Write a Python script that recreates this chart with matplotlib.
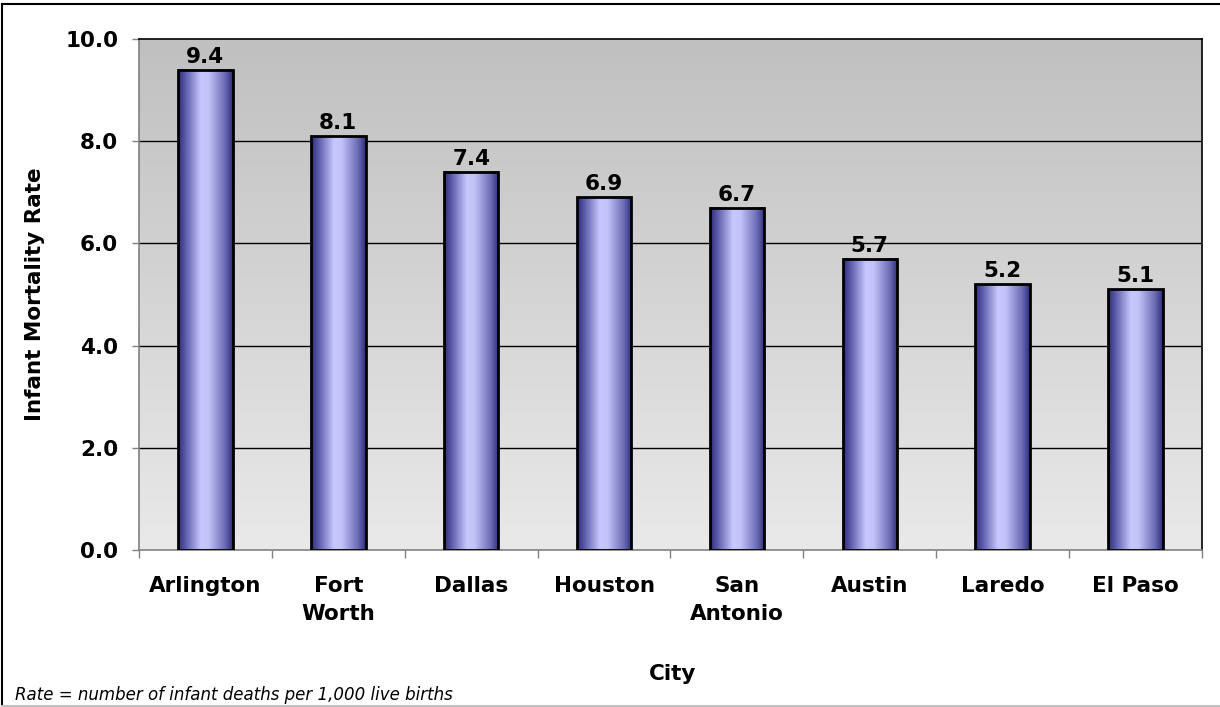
import numpy as np
import matplotlib
matplotlib.use("Agg")
import matplotlib.pyplot as plt
from matplotlib.colors import LinearSegmentedColormap

cities = ["Arlington", "Fort\nWorth", "Dallas", "Houston", "San\nAntonio", "Austin", "Laredo", "El Paso"]
rates = [9.4, 8.1, 7.4, 6.9, 6.7, 5.7, 5.2, 5.1]
yticks = [0.0, 2.0, 4.0, 6.0, 8.0, 10.0]

plt.rcParams['font.family'] = ['DejaVu Sans']
fs = 15.5

fig = plt.figure(figsize=(12.2, 7.07), dpi=100)
ax = fig.add_axes([0.1139, 0.2221, 0.8713, 0.7227])

x = np.arange(len(cities))
ax.set_xlim(-0.5, len(cities) - 0.5)
ax.set_ylim(0, 10)

# plot area background: vertical gray gradient
bg = LinearSegmentedColormap.from_list("bg", ["#e9e9e9", "#c0c0c0"])
grad = np.linspace(0, 1, 256).reshape(-1, 1)
ax.imshow(grad, cmap=bg, aspect="auto", origin="lower",
          extent=[-0.5, len(cities) - 0.5, 0, 10], zorder=0)

# grid lines
for t in yticks[1:-1]:
    ax.axhline(t, color="black", lw=1, zorder=1)

# bars with horizontal gradient
barcm = LinearSegmentedColormap.from_list(
    "bar", [(0, "#2c2c78"), (0.14, "#5c5cab"), (0.42, "#c8c8ff"),
            (0.56, "#c2c2f8"), (0.86, "#6a6ab4"), (1, "#2c2c78")])
hgrad = np.linspace(0, 1, 256).reshape(1, -1)
w = 0.41
bars = ax.bar(x, rates, width=w, facecolor="none", edgecolor="black", lw=2, zorder=3)
for b, v in zip(bars, rates):
    x0 = b.get_x()
    ax.imshow(hgrad, cmap=barcm, aspect="auto",
              extent=[x0, x0 + w, 0, v], zorder=2)
    ax.text(b.get_x() + w / 2, v + 0.06, "%.1f" % v, ha="center", va="bottom",
            fontsize=fs, fontweight="bold", zorder=4)

# axes styling
for s in ["top", "right"]:
    ax.spines[s].set_color("black")
    ax.spines[s].set_linewidth(1.2)
for s in ["left", "bottom"]:
    ax.spines[s].set_color("#808080")
    ax.spines[s].set_linewidth(1.2)

ax.set_yticks(yticks)
ax.set_yticklabels(["%.1f" % t for t in yticks], fontsize=fs, fontweight="bold")
ax.tick_params(axis="y", length=5, width=1, color="#808080", pad=10)

ax.set_xticks(np.arange(len(cities) + 1) - 0.5)
ax.set_xticklabels([])
ax.tick_params(axis="x", length=6, width=1, color="#808080")
for xi, c in zip(x, cities):
    ax.text(xi, -0.5, c, ha="center", va="top", fontsize=fs,
            fontweight="bold", linespacing=1.5, transform=ax.transData)

ax.set_ylabel("Infant Mortality Rate", fontsize=fs, fontweight="bold")
ax.yaxis.set_label_coords(-0.088, 0.5)

fig.text(0.551, 0.047, "City", ha="center", va="center", fontsize=fs, fontweight="bold")
fig.text(0.012, 0.017, "Rate = number of infant deaths per 1,000 live births",
         ha="left", va="center", fontsize=12, style="italic")

# outer frame
fig.add_artist(plt.Line2D([0.002, 0.002], [0.002, 0.994], color="black", lw=1.5, transform=fig.transFigure))
fig.add_artist(plt.Line2D([0.002, 1.0], [0.994, 0.994], color="black", lw=1.5, transform=fig.transFigure))
fig.add_artist(plt.Line2D([0.002, 1.0], [0.002, 0.002], color="#c0c0c0", lw=1.5, transform=fig.transFigure))

fig.savefig("out.png", dpi=100)
